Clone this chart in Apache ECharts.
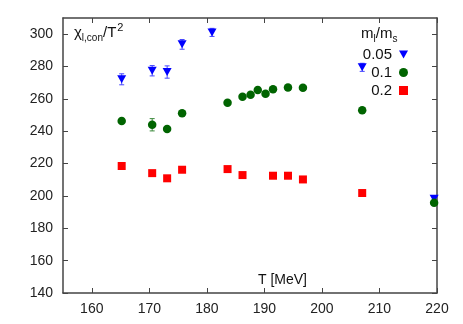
<!DOCTYPE html>
<html><head><meta charset="utf-8">
<script src="https://cdn.jsdelivr.net/npm/echarts@6/dist/echarts.min.js"></script>
<style>html,body{margin:0;padding:0;background:#fff}#c{width:463px;height:324px}</style>
</head><body><div id="c"></div>
<script>
const xTicks = [160,170,180,190,200,210,220];
const yTicks = [140,160,180,200,220,240,260,280,300];

const T05 = [165.2, 170.5, 173.1, 175.7, 180.9, 207.0, 219.5];
const chi05 = [272.1, 277.4, 276.6, 293.7, 301.1, 279.5, 198.3];
const err05 = [3.4, 3.2, 3.8, 3.0, 2.5, 2.5, 1.5];

const T1 = [165.2, 170.5, 173.1, 175.7, 183.6, 186.2, 187.6, 188.85, 190.2, 191.5, 194.1, 196.7, 207.0, 219.5];
const chi1 = [246.3, 244.0, 241.4, 251.1, 257.6, 261.3, 262.6, 265.5, 263.2, 265.9, 267.1, 266.9, 252.9, 195.8];
const err1 = [1.0, 3.8, 1.0, 1.5, 1.0, 1.0, 1.0, 1.0, 1.0, 1.0, 1.0, 1.0, 1.0, 1.0];

const T2 = [165.2, 170.5, 173.1, 175.7, 183.6, 186.2, 191.5, 194.1, 196.7, 207.0];
const chi2 = [218.5, 214.1, 210.9, 216.2, 216.6, 212.9, 212.5, 212.5, 210.2, 201.8];

const names = ['0.05', '0.1', '0.2'];
const colors = ['#0000ff', '#006400', '#ff0000'];

const FONT = 'Liberation Sans';
const axisCol = '#444';
const triDown = 'path://M0,0 L10,0 L5,9 Z';

function pts(x, y) { return x.map((v, i) => [v, y[i]]); }
function errs(x, y, e) { return x.map((v, i) => [v, y[i] - e[i], y[i] + e[i]]); }

function errSeries(data, color) {
  return {
    type: 'custom', silent: true, clip: false, z: 1,
    data: data,
    encode: { x: 0, y: [1, 2] },
    renderItem: function (params, api) {
      const x = api.value(0);
      const lo = api.coord([x, api.value(1)]);
      const hi = api.coord([x, api.value(2)]);
      const w = 2.5;
      const st = { stroke: color, lineWidth: 1 };
      return { type: 'group', children: [
        { type: 'line', shape: { x1: lo[0], y1: lo[1], x2: hi[0], y2: hi[1] }, style: st },
        { type: 'line', shape: { x1: lo[0] - w, y1: lo[1], x2: lo[0] + w, y2: lo[1] }, style: st },
        { type: 'line', shape: { x1: hi[0] - w, y1: hi[1], x2: hi[0] + w, y2: hi[1] }, style: st }
      ]};
    }
  };
}

const axisCommon = {
  type: 'value',
  axisLine: { show: true, lineStyle: { color: axisCol, width: 1.5 } },
  splitLine: { show: false }
};

const chart = echarts.init(document.getElementById('c'), null, { renderer: 'canvas' });
chart.setOption({
  animation: false,
  backgroundColor: '#fff',
  textStyle: { fontFamily: FONT },
  grid: { left: 63, right: 26, top: 18, bottom: 31 },
  xAxis: [
    Object.assign({}, axisCommon, {
      min: 155, max: 220, position: 'bottom',
      axisTick: { show: true, inside: true, length: 5, customValues: xTicks, lineStyle: { color: axisCol } },
      axisLabel: { show: true, customValues: xTicks, margin: 9, fontSize: 14, color: '#222', fontFamily: FONT }
    }),
    Object.assign({}, axisCommon, {
      min: 155, max: 220, position: 'top',
      axisTick: { show: true, inside: true, length: 5, customValues: xTicks, lineStyle: { color: axisCol } },
      axisLabel: { show: false }
    })
  ],
  yAxis: [
    Object.assign({}, axisCommon, {
      min: 140, max: 310, position: 'left',
      axisTick: { show: true, inside: true, length: 5, customValues: yTicks, lineStyle: { color: axisCol } },
      axisLabel: { show: true, customValues: yTicks, margin: 10, fontSize: 14, color: '#222', fontFamily: FONT }
    }),
    Object.assign({}, axisCommon, {
      min: 140, max: 310, position: 'right',
      axisTick: { show: true, inside: true, length: 5, customValues: yTicks, lineStyle: { color: axisCol } },
      axisLabel: { show: false }
    })
  ],
  legend: {
    data: [
      { name: names[0], icon: triDown },
      { name: names[1], icon: 'circle' },
      { name: names[2], icon: 'rect' }
    ],
    orient: 'vertical', align: 'right',
    right: 50, top: 42,
    itemWidth: 9, itemHeight: 9, itemGap: 3,
    textStyle: { fontSize: 15, color: '#111', fontFamily: FONT, lineHeight: 15, padding: [0, 2, 0, 0] }
  },
  graphic: [
    {
      type: 'text', left: 74, top: 22, z: 10,
      style: {
        text: '{m|χ}{s|l,con}{m|/T}{p|2}',
        fill: '#111',
        rich: {
          m: { fontSize: 15, lineHeight: 15, fontFamily: FONT, verticalAlign: 'top', padding: [3, 0, 0, 0] },
          s: { fontSize: 10, lineHeight: 10, fontFamily: FONT, verticalAlign: 'top', padding: [11, 0, 0, 0] },
          p: { fontSize: 11, lineHeight: 11, fontFamily: FONT, verticalAlign: 'top', padding: [0, 0, 0, 1] }
        }
      }
    },
    {
      type: 'text', left: 361, top: 26, z: 10,
      style: {
        text: '{m|m}{s|l}{m|/m}{s|s}',
        fill: '#111',
        rich: {
          m: { fontSize: 15, lineHeight: 15, fontFamily: FONT, verticalAlign: 'top' },
          s: { fontSize: 10, lineHeight: 10, fontFamily: FONT, verticalAlign: 'top', padding: [8, 0, 0, 0] }
        }
      }
    },
    {
      type: 'text', left: 258, top: 273, z: 10,
      style: { text: 'T [MeV]', fontSize: 14, fontFamily: FONT, fill: '#111' }
    }
  ],
  series: [
    errSeries(errs(T05, chi05, err05), '#4848ff'),
    errSeries(errs(T1, chi1, err1), '#3c8a3c'),
    {
      name: names[0], type: 'scatter', data: pts(T05, chi05), clip: false, z: 3,
      symbol: triDown, symbolSize: [9, 8], itemStyle: { color: colors[0], opacity: 1 }
    },
    {
      name: names[1], type: 'scatter', data: pts(T1, chi1), clip: false, z: 3,
      symbol: 'circle', symbolSize: 8.5, itemStyle: { color: colors[1], opacity: 1 }
    },
    {
      name: names[2], type: 'scatter', data: pts(T2, chi2), clip: false, z: 3,
      symbol: 'rect', symbolSize: 8, itemStyle: { color: colors[2], opacity: 1 }
    }
  ]
});
</script>
</body></html>
